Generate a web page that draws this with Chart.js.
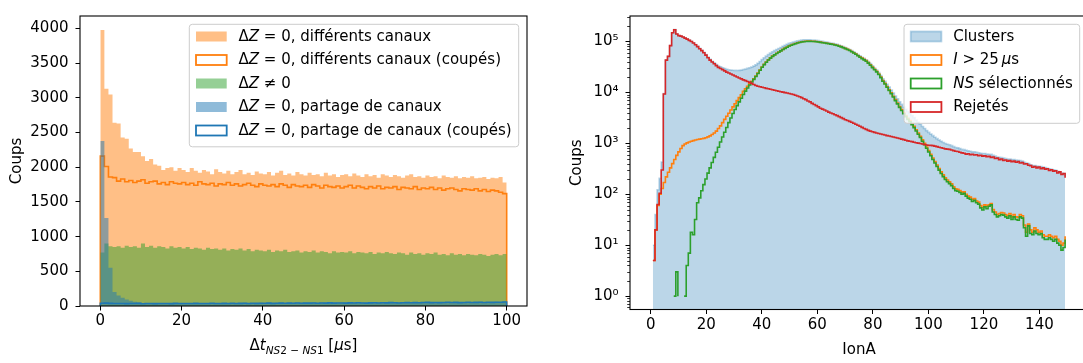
<!DOCTYPE html>
<html><head><meta charset="utf-8">
<script src="https://cdn.jsdelivr.net/npm/chart.js@4/dist/chart.umd.min.js"></script>
<style>
html,body{margin:0;padding:0;background:#fff;overflow:hidden;width:1083px;height:363px;position:relative}
#w1{position:absolute;left:0;top:0;width:540px;height:363px}
#w2{position:absolute;left:540px;top:0;width:560px;height:363px}
</style></head><body>
<div id="w1"><canvas id="c1" width="540" height="363"></canvas></div>
<div id="w2"><canvas id="c2" width="560" height="363"></canvas></div>
<script>
// ---------- LEFT: Δt histograms (bins of 1 µs from 0 to 100) ----------
const dtBinStart = 0, dtBinWidth = 1;
const diffCanaux = [3980,3130,3050,2640,2630,2430,2410,2270,2220,2220,2160,2090,2120,2040,2020,1960,1990,2000,1950,1990,
1960,1930,1990,1950,1920,1960,1940,1900,1970,1930,1910,1950,1900,1930,1960,1900,1920,1890,1940,1910,
1900,1930,1880,1920,1950,1890,1910,1880,1930,1900,1880,1920,1890,1900,1870,1920,1880,1900,1860,1890,
1900,1870,1910,1880,1860,1900,1870,1890,1850,1900,1880,1860,1890,1870,1850,1880,1900,1860,1870,1850,
1880,1860,1870,1840,1880,1860,1850,1870,1840,1860,1850,1870,1840,1850,1860,1830,1850,1840,1860,1780];
const diffCanauxCoupes = [2160,2010,1860,1850,1800,1830,1790,1810,1780,1800,1820,1770,1790,1800,1760,1780,1750,1790,1770,1760,
1780,1750,1770,1740,1790,1760,1750,1770,1730,1760,1750,1780,1740,1760,1730,1750,1770,1740,1720,1760,
1740,1730,1750,1720,1760,1740,1710,1750,1730,1720,1740,1710,1750,1730,1700,1740,1720,1710,1730,1700,
1720,1740,1700,1730,1710,1690,1720,1700,1730,1690,1710,1700,1720,1680,1710,1700,1690,1720,1680,1700,
1690,1710,1680,1700,1670,1690,1700,1680,1660,1690,1680,1670,1690,1660,1680,1650,1670,1660,1640,1620];
const dzNonZero = [770,900,860,850,860,840,870,850,860,840,900,850,870,840,860,850,830,860,840,850,
830,850,820,840,830,810,840,820,830,810,830,800,820,810,830,800,820,790,810,800,
790,810,780,800,790,810,780,790,800,770,790,780,800,770,790,780,760,790,770,780,
770,790,760,780,770,760,780,750,770,760,780,760,750,770,760,740,770,750,760,740,
760,750,770,740,750,730,760,740,750,730,750,740,730,750,740,720,740,750,730,750];
const partageCanaux = [2380,1270,550,200,150,120,95,75,62,52,45,44,42,41,43,40,42,41,44,42,
41,43,42,44,41,43,42,45,43,42,44,43,45,42,44,46,43,45,44,46,45,47,44,46,48,45,47,46,49,46,
48,47,50,46,49,48,51,47,50,49,48,51,49,52,50,48,51,53,50,52,51,54,52,50,53,55,52,54,53,56,
58,54,56,55,57,59,56,58,55,57,59,56,58,60,57,59,58,61,59,64];
const partageCanauxCoupes = [40,42,38,36,35,37,34,36,35,38,33,36,35,34,37,35,36,34,38,36,
35,37,36,38,35,37,36,39,37,36,38,37,39,36,38,40,37,39,38,40,39,41,38,40,42,39,41,40,43,40,
42,41,44,40,43,42,45,41,44,43,42,45,43,46,44,42,45,47,44,46,45,48,46,44,47,49,46,48,47,50,
52,48,50,49,51,53,50,52,49,51,53,50,52,54,51,53,52,55,53,58];
const dtTicks = [0,20,40,60,80,100];
const dtRange = [-5,105];
const coupsTicks = [0,500,1000,1500,2000,2500,3000,3500,4000];
const coupsRange = [0,4180];

// ---------- RIGHT: IonA histograms (bins of 0.75 from 0 to 150) ----------
const ionBinStart = 0, ionBinWidth = 0.75;
const clusters = [0,10,40,123,205,430,9470,43220,51270,83330,
148400,170480,140580,130680,127790,122900,116970,112020,106060,101100,
94130,87160,80190,73210,67230,61250,55290,49340,44400,40990,
38100,35240,32950,31700,30550,29450,28400,27900,27500,27200,
27000,26900,27100,27400,28100,28800,29600,30500,31500,32800,
34700,37200,40400,44100,47800,51500,55300,59000,62800,66000,
69300,72500,76300,80100,83900,87700,91500,94300,97100,99800,
102500,104700,106400,107500,108200,108300,108000,107100,106300,105000,
103700,101900,100200,98500,96800,95100,93450,91800,89650,87500,
84850,82200,79050,75900,72800,69700,66100,62480,58870,55260,
52160,49060,46460,43880,40300,36740,33190,30140,27600,24560,
21520,18490,16460,14420,12690,11160,9730,8500,7470,6540,
5810,5180,4650,4220,3900,3530,3200,2880,2610,2370,
2140,1950,1780,1640,1520,1415,1320,1235,1160,1095,
1040,990,960,935,900,860,828,815,788,760,
752,730,712,698,680,682,664,655,640,630,
632,618,612,606,580,560,540,532,524,513,
500,493,492,481,480,471,465,460,448,425,
408,401,380,368,367,360,353,349,341,335,
325,316,310,304,295,283,272,260,256,225];
const iSup25 = [0,5,20,60,100,130,170,220,270,330,
400,480,580,680,790,900,970,1020,1060,1100,
1130,1160,1190,1210,1230,1250,1290,1340,1400,1490,
1600,1740,1950,2200,2550,2950,3400,3900,4500,5200,
6000,6900,7900,9000,10500,11800,13200,14800,16500,18500,
21000,24000,27500,31500,35500,39500,43500,47500,51500,55000,
58500,62000,66000,70000,74000,78000,82000,85000,88000,91000,
94000,96500,98500,100000,101000,101500,101500,101000,100500,99500,
98500,97000,95500,94000,92500,91000,89500,88000,86000,84000,
81500,79000,76000,73000,70000,67000,63500,60000,56500,53000,
50000,47000,44500,42000,38500,35000,31500,28500,26000,23000,
20000,17000,15000,13000,11300,9800,8400,7200,6200,5300,
4600,4000,3500,3100,2800,2450,2150,1850,1600,1380,
1170,1000,850,720,610,515,440,375,320,275,
240,210,190,175,160,140,128,125,118,110,
112,100,92,88,80,82,74,70,60,55,
62,58,62,66,50,45,40,42,44,43,
40,38,42,36,40,36,35,40,38,25,
18,26,20,18,22,20,18,19,16,15,
15,16,15,14,15,13,12,10,11,15];
const nsSelect = [0,0,0,0,0,0,0,0,1,0,
0,1,3,1,0,0,1,4,7,18,
16,32,68,85,117,155,200,260,330,420,
530,670,840,1060,1330,1650,2050,2550,3150,3850,
4600,5500,6500,7700,9100,10600,12200,14000,16000,18000,
20500,23500,27200,31200,35100,39100,43100,47000,51000,54500,
57900,61400,65300,69300,73300,77200,81200,84200,87100,90100,
93100,95500,97500,99000,100000,100500,100500,100000,99500,98500,
97500,96000,94500,93000,91600,90100,88600,87100,85100,83200,
80700,78200,75200,72300,69300,66300,62900,59400,55900,52500,
49000,46000,43500,41000,37600,34100,30700,27800,25300,22400,
19500,16500,14600,12600,10900,9450,8100,6900,5950,5080,
4400,3820,3340,2950,2660,2320,2030,1750,1510,1300,
1100,940,800,675,570,480,410,350,298,256,
222,195,176,162,148,130,118,115,108,100,
104,92,84,80,72,76,68,64,54,49,
57,52,58,62,45,40,36,38,40,39,
36,34,38,32,36,32,31,36,34,22,
15,24,17,16,19,17,16,17,14,13,
13,14,13,12,13,11,10,8,9,13];
const rejetes = [0,5,20,63,105,300,9300,43000,51000,83000,
148000,170000,140000,130000,127000,122000,116000,111000,105000,100000,
93000,86000,79000,72000,66000,60000,54000,48000,43000,39500,
36500,33500,31000,29500,28000,26500,25000,24000,23000,22000,
21000,20000,19200,18400,17600,17000,16400,15700,15000,14300,
13700,13200,12900,12600,12300,12000,11800,11500,11300,11000,
10800,10500,10300,10100,9900,9700,9500,9300,9100,8800,
8500,8200,7900,7500,7200,6800,6500,6100,5800,5500,
5200,4900,4700,4500,4300,4100,3950,3800,3650,3500,
3350,3200,3050,2900,2800,2700,2600,2480,2370,2260,
2160,2060,1960,1880,1800,1740,1690,1640,1600,1560,
1520,1490,1460,1420,1390,1360,1330,1300,1270,1240,
1210,1180,1150,1120,1100,1080,1050,1030,1010,990,
970,950,930,920,910,900,880,860,840,820,
800,780,770,760,740,720,700,690,670,650,
640,615,625,600,612,590,598,570,585,560,
570,548,556,530,540,505,512,478,492,462,
470,448,458,435,447,425,438,410,418,392,
398,372,365,340,352,330,342,318,330,312,
318,292,302,285,290,262,275,245,255,210];
const ionTicks = [0,20,40,60,80,100,120,140];
const ionRange = [-7.5,157.5];
const logTicks = [1,10,100,1000,10000,100000];
const logTickLabels = ['10\u2070','10\u00b9','10\u00b2','10\u00b3','10\u2074','10\u2075'];
const logRange = [0.547,316000];

// ---------- helpers ----------
const FONT = '"DejaVu Sans"';
const FS = 15;
Chart.defaults.font.family = FONT;
Chart.defaults.color = '#000';

// step outline: each point's value holds from its x to the next point's x ('before' = horizontal first)
function stepPoints(values, lo, w) {
  const pts = [{x: lo, y: 0}];
  values.forEach((v, i) => pts.push({x: lo + i * w, y: v}));
  pts.push({x: lo + values.length * w, y: 0});
  return pts;
}
function fontFor(s) { return (s.it ? 'italic ' : '') + (s.sub ? 10.5 : FS) + 'px ' + FONT; }
function richWidth(ctx, segs) {
  let w = 0; segs.forEach(s => { ctx.font = fontFor(s); w += ctx.measureText(s.t).width; }); return w;
}
function drawRich(ctx, segs, x, y, align) {
  let cx = align === 'center' ? x - richWidth(ctx, segs) / 2 : x;
  segs.forEach(s => {
    ctx.font = fontFor(s);
    ctx.fillText(s.t, cx, y + (s.sub ? 3.8 : 0));
    cx += ctx.measureText(s.t).width;
  });
}
const framePlugin = {
  id: 'frame',
  afterDatasetsDraw(chart) {
    const {ctx, chartArea: a} = chart;
    ctx.save(); ctx.strokeStyle = '#000'; ctx.lineWidth = 1.1;
    ctx.strokeRect(a.left, a.top, a.right - a.left, a.bottom - a.top);
    ctx.restore();
  }
};
function legendPlugin(entries) {
  return {
    id: 'mplLegend',
    afterDraw(chart) {
      const {ctx, chartArea: a} = chart;
      ctx.save();
      ctx.textBaseline = 'middle'; ctx.fillStyle = '#000';
      let tw = 0; entries.forEach(e => tw = Math.max(tw, richWidth(ctx, e.label)));
      const w = 6.7 + 30.7 + 11.8 + tw + 7;
      const h = 28.5 + 23.5 * (entries.length - 1);
      const x0 = a.right - 8.3 - w, y0 = a.top + 8.3;
      ctx.beginPath(); ctx.roundRect(x0, y0, w, h, 3);
      ctx.fillStyle = 'rgba(255,255,255,0.8)'; ctx.fill();
      ctx.strokeStyle = '#cccccc'; ctx.lineWidth = 1; ctx.stroke();
      entries.forEach((e, i) => {
        const cy = y0 + 12.2 + 23.5 * i;
        const px = x0 + 6.7, py = cy - 5, pw = 30.7, ph = 10;
        if (e.fill) { ctx.fillStyle = e.fill; ctx.fillRect(px, py, pw, ph); }
        if (e.stroke) { ctx.strokeStyle = e.stroke; ctx.lineWidth = 1.8; ctx.strokeRect(px, py, pw, ph); }
        ctx.fillStyle = '#000';
        drawRich(ctx, e.label, px + pw + 11.8, cy + 0.5, 'left');
      });
      ctx.restore();
    }
  };
}
function axisTitlePlugin(xSegs, xDy, ySegs, yDx) {
  return {
    id: 'axisTitles',
    afterDraw(chart) {
      const {ctx, chartArea: a} = chart;
      ctx.save(); ctx.fillStyle = '#000'; ctx.textBaseline = 'alphabetic';
      drawRich(ctx, xSegs, (a.left + a.right) / 2, a.bottom + xDy, 'center');
      ctx.translate(a.left - yDx, (a.top + a.bottom) / 2); ctx.rotate(-Math.PI / 2);
      ctx.textBaseline = 'middle';
      drawRich(ctx, ySegs, 0, 0, 'center');
      ctx.restore();
    }
  };
}
const minorLogTicks = {
  id: 'minorLog',
  afterDatasetsDraw(chart) {
    const {ctx, chartArea: a} = chart; const s = chart.scales.y;
    ctx.save(); ctx.strokeStyle = '#000'; ctx.lineWidth = 0.8;
    for (let e = -1; e <= 5; e++) for (let m = 2; m <= 9; m++) {
      const v = m * Math.pow(10, e);
      if (v < s.min || v > s.max) continue;
      const y = Math.round(s.getPixelForValue(v)) + 0.5;
      ctx.beginPath(); ctx.moveTo(a.left - 2.8, y); ctx.lineTo(a.left, y); ctx.stroke();
    }
    ctx.restore();
  }
};
const tickFont = {family: FONT, size: FS};
const gridOpts = {display: true, drawOnChartArea: false, drawTicks: true, tickLength: 4.5, color: '#000', tickColor: '#000', tickWidth: 1};
function xAxis(range, ticks, h) {
  return {
    type: 'linear', min: range[0], max: range[1],
    afterBuildTicks: s => { s.ticks = ticks.map(v => ({value: v})); },
    afterFit: s => { s.height = h; },
    grid: gridOpts, border: {display: false},
    ticks: {font: tickFont, color: '#000', padding: 2, maxRotation: 0, autoSkip: false, callback: v => String(v)}
  };
}
const C0 = '#1f77b4', C1 = '#ff7f0e', C2 = '#2ca02c', C3 = '#d62728';
function fillSet(values, lo, w, color, order) {
  return {data: stepPoints(values, lo, w), stepped: 'before', fill: 'start', backgroundColor: color,
    borderWidth: 0, pointRadius: 0, order};
}
function lineSet(values, lo, w, color, order, bw) {
  return {data: stepPoints(values, lo, w), stepped: 'before', fill: false, borderColor: color,
    borderWidth: bw || 1.6, pointRadius: 0, order, borderJoinStyle: 'miter'};
}

// ---------- LEFT chart ----------
new Chart(document.getElementById('c1'), {
  type: 'line',
  data: {datasets: [
    fillSet(diffCanaux, dtBinStart, dtBinWidth, 'rgba(255,127,14,0.5)', 10),
    lineSet(diffCanauxCoupes, dtBinStart, dtBinWidth, C1, 9),
    fillSet(dzNonZero, dtBinStart, dtBinWidth, 'rgba(44,160,44,0.5)', 8),
    fillSet(partageCanaux, dtBinStart, dtBinWidth, 'rgba(31,119,180,0.5)', 7),
    lineSet(partageCanauxCoupes, dtBinStart, dtBinWidth, C0, 6)
  ]},
  options: {
    responsive: false, animation: false, events: [],
    layout: {padding: {top: 6, right: 13, left: 0, bottom: 0}},
    plugins: {legend: {display: false}, tooltip: {enabled: false}},
    scales: {
      x: xAxis(dtRange, dtTicks, 57),
      y: {
        type: 'linear', min: coupsRange[0], max: coupsRange[1],
        afterBuildTicks: s => { s.ticks = coupsTicks.map(v => ({value: v})); },
        afterFit: s => { s.width = 80; },
        grid: gridOpts, border: {display: false},
        ticks: {font: tickFont, color: '#000', padding: 7, callback: v => String(v)}
      }
    }
  },
  plugins: [framePlugin,
    legendPlugin([
      {fill: 'rgba(255,127,14,0.5)', label: [{t: 'Δ'}, {t: 'Z', it: 1}, {t: ' = 0, différents canaux'}]},
      {stroke: C1, fill: '#fff', label: [{t: 'Δ'}, {t: 'Z', it: 1}, {t: ' = 0, différents canaux (coupés)'}]},
      {fill: 'rgba(44,160,44,0.5)', label: [{t: 'Δ'}, {t: 'Z', it: 1}, {t: ' ≠ 0'}]},
      {fill: 'rgba(31,119,180,0.5)', label: [{t: 'Δ'}, {t: 'Z', it: 1}, {t: ' = 0, partage de canaux'}]},
      {stroke: C0, fill: '#fff', label: [{t: 'Δ'}, {t: 'Z', it: 1}, {t: ' = 0, partage de canaux (coupés)'}]}
    ]),
    axisTitlePlugin(
      [{t: 'Δ'}, {t: 't', it: 1}, {t: 'NS', it: 1, sub: 1}, {t: '2 − ', sub: 1}, {t: 'NS', it: 1, sub: 1}, {t: '1', sub: 1}, {t: ' ['}, {t: 'µ', it: 1}, {t: 's]'}],
      44, [{t: 'Coups'}], 62.5)
  ]
});

// ---------- RIGHT chart ----------
new Chart(document.getElementById('c2'), {
  type: 'line',
  data: {datasets: [
    Object.assign(fillSet(clusters, ionBinStart, ionBinWidth, 'rgba(31,119,180,0.3)', 10), {borderColor: 'rgba(31,119,180,0.3)', borderWidth: 1.6}),
    lineSet(iSup25, ionBinStart, ionBinWidth, C1, 9),
    lineSet(nsSelect, ionBinStart, ionBinWidth, C2, 8),
    lineSet(rejetes, ionBinStart, ionBinWidth, C3, 7)
  ]},
  options: {
    responsive: false, animation: false, events: [],
    layout: {padding: {top: 6, right: 12, left: 0, bottom: 0}},
    plugins: {legend: {display: false}, tooltip: {enabled: false}},
    scales: {
      x: xAxis(ionRange, ionTicks, 53.5),
      y: {
        type: 'logarithmic', min: logRange[0], max: logRange[1],
        afterBuildTicks: s => { s.ticks = logTicks.map(v => ({value: v})); },
        afterFit: s => { s.width = 90; },
        grid: gridOpts, border: {display: false},
        ticks: {font: tickFont, color: '#000', padding: 7,
          callback: (v) => { const i = logTicks.indexOf(v); return i >= 0 ? logTickLabels[i] : ''; }}
      }
    }
  },
  plugins: [framePlugin, minorLogTicks,
    legendPlugin([
      {fill: 'rgba(31,119,180,0.3)', stroke: 'rgba(31,119,180,0.3)', label: [{t: 'Clusters'}]},
      {stroke: C1, fill: '#fff', label: [{t: 'I', it: 1}, {t: ' > 25\u2009'}, {t: 'µ', it: 1}, {t: 's'}]},
      {stroke: C2, fill: '#fff', label: [{t: 'NS', it: 1}, {t: ' sélectionnés'}]},
      {stroke: C3, fill: '#fff', label: [{t: 'Rejetés'}]}
    ]),
    axisTitlePlugin([{t: 'IonA'}], 44, [{t: 'Coups'}], 52.5)
  ]
});
</script>
</body></html>
